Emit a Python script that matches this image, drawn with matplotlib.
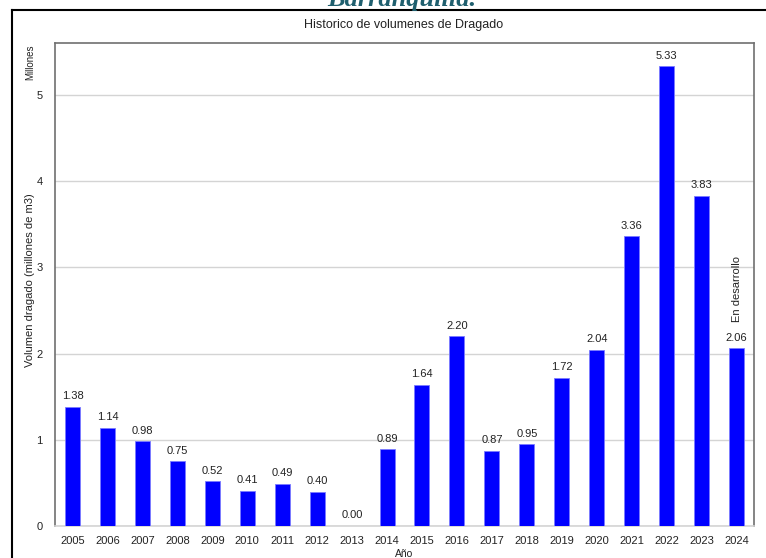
import matplotlib
matplotlib.use("Agg")
import matplotlib.pyplot as plt
from matplotlib.lines import Line2D

plt.rcParams['font.family'] = ['Liberation Sans', 'DejaVu Sans']

years = ["2005", "2006", "2007", "2008", "2009", "2010", "2011", "2012", "2013", "2014",
         "2015", "2016", "2017", "2018", "2019", "2020", "2021", "2022", "2023", "2024"]
values = [1.38, 1.14, 0.98, 0.75, 0.52, 0.41, 0.49, 0.40, 0.00, 0.89,
          1.64, 2.20, 0.87, 0.95, 1.72, 2.04, 3.36, 5.33, 3.83, 2.06]
yticks = [0, 1, 2, 3, 4, 5]

W, H = 766, 558
fig = plt.figure(figsize=(W / 100, H / 100), dpi=100)
ax = fig.add_axes([55 / W, 1 - 526 / H, (754 - 55) / W, (526 - 43) / H])

x = list(range(len(years)))
bars = ax.bar(x, values, width=0.43, color='#0000ff', edgecolor='#7b7bff', linewidth=0.6, zorder=3)
for xi, v in zip(x, values):
    ax.annotate(f"{v:.2f}", (xi, v), xytext=(0, 4), textcoords='offset points',
                ha='center', va='bottom', fontsize=8, color='#222222')

ax.set_xlim(-0.5, len(years) - 0.5)
ax.set_ylim(0, 5.6)
ax.set_xticks(x)
ax.set_xticklabels(years, fontsize=8, color='#222222')
ax.set_yticks(yticks)
ax.set_yticklabels([str(t) for t in yticks], fontsize=8, color='#222222')
ax.tick_params(axis='both', length=0)
ax.tick_params(axis='y', pad=9)
ax.tick_params(axis='x', pad=7)
ax.yaxis.grid(True, color='#d4d4d4', linewidth=1, zorder=0)
ax.set_axisbelow(True)
for s in ['left', 'top', 'right']:
    ax.spines[s].set_color('#707070')
    ax.spines[s].set_linewidth(1.2)
ax.spines['bottom'].set_color('#d4d4d4')
ax.spines['bottom'].set_linewidth(1.2)

ax.text(19, 2.36, "En desarrollo", rotation=90, ha='center', va='bottom', fontsize=8, color='#222222')

fig.text(404 / W, 1 - 25 / H, "Historico de volumenes de Dragado", ha='center', va='center', fontsize=9, color='#222222')
fig.text(30 / W, 1 - 62 / H, "Millones", rotation=90, ha='center', va='center', fontsize=7, color='#222222')
fig.text(30 / W, 1 - 280 / H, "Volumen dragado (millones de m3)", rotation=90, ha='center', va='center', fontsize=8, color='#222222')
fig.text(404 / W, 1 - 554 / H, "Año", ha='center', va='center', fontsize=7.5, color='#222222')

fig.text(402 / W, 1 - 6 / H, "Barranquilla.", ha='center', va='baseline', fontsize=19,
         family=['Liberation Serif', 'DejaVu Serif'], style='italic', weight='bold', color='#1f5f6e')

fig.add_artist(Line2D([12 / W, 1], [1 - 10 / H, 1 - 10 / H], color='black', lw=1.5, transform=fig.transFigure))
fig.add_artist(Line2D([12 / W, 12 / W], [0, 1 - 10 / H], color='black', lw=1.5, transform=fig.transFigure))

fig.savefig("out.png", dpi=100)
